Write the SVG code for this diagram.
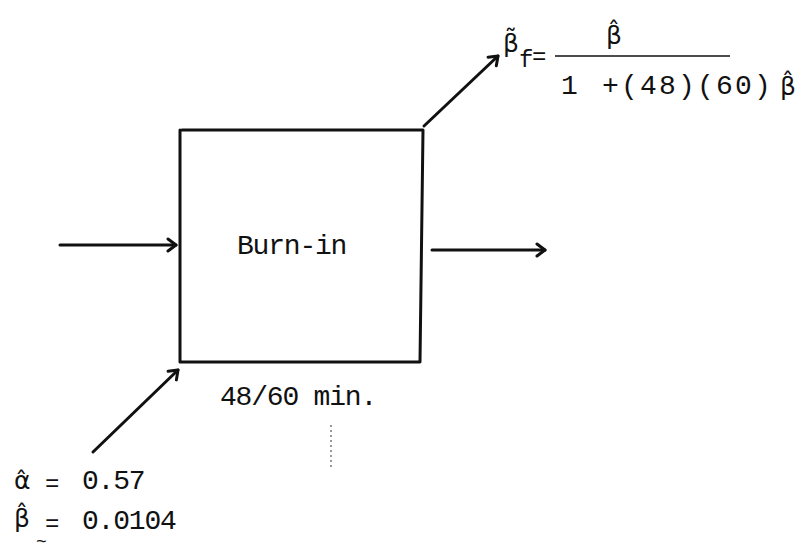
<svg xmlns="http://www.w3.org/2000/svg" width="805" height="551" viewBox="0 0 805 551">
<defs>
<style>
text{font-family:"Liberation Mono","DejaVu Sans Mono",monospace;fill:#111;}
.t{font-size:28px;letter-spacing:-1.2px;}
.s{font-size:24px;}
.g{font-family:"DejaVu Sans","Noto Sans",sans-serif;font-size:25px;}
.ln{stroke:#111;stroke-width:3;fill:none;stroke-linecap:round;stroke-linejoin:round;}
.thin{stroke:#111;stroke-width:1.5;fill:none;}
</style>
<marker id="ah" viewBox="0 0 16 16" refX="13" refY="8" markerWidth="16" markerHeight="16" markerUnits="userSpaceOnUse" orient="auto">
<path d="M5,2 L13,8 L5,14" fill="none" stroke="#111" stroke-width="3" stroke-linecap="round" stroke-linejoin="round"/>
</marker>
</defs>
<rect width="805" height="551" fill="#fff"/>
<g id="burn-in">
<path class="ln" d="M180,130 L180,362 L420,362 L423,130 L182,130"/>
<text class="t" x="237" y="254">Burn-in</text>
<text class="t" x="220" y="405">48/60 min.</text>
</g>
<g id="connectors">
<line class="ln" x1="60" y1="245" x2="176" y2="245" marker-end="url(#ah)"/>
<line class="ln" x1="432" y1="250" x2="545" y2="250" marker-end="url(#ah)"/>
<line class="ln" x1="424" y1="126" x2="498" y2="56" marker-end="url(#ah)"/>
<line class="ln" x1="93" y1="452" x2="178" y2="370" marker-end="url(#ah)"/>
<line x1="331" y1="425" x2="331" y2="470" stroke="#333" stroke-width="1" stroke-dasharray="2,3"/>
</g>
<g id="formula">
<text class="g" x="503" y="52">β̃</text>
<text class="s" x="519" y="67">f</text>
<text class="s" x="532" y="64">=</text>
<line class="thin" x1="555" y1="56" x2="730" y2="56"/>
<text class="g" x="606" y="44">β̂</text>
<text class="t" x="561" y="94">1</text>
<text class="t" x="602" y="94" style="letter-spacing:2.2px">+(48)(60)</text>
<text class="g" x="780" y="95">β̂</text>
</g>
<g id="params">
<text class="g" x="14" y="489">α̂</text>
<text class="s" x="45" y="491">=</text>
<text class="t" x="82" y="489">0.57</text>
<text class="g" x="14" y="527">β̂</text>
<text class="s" x="45" y="531">=</text>
<text class="t" x="82" y="529">0.0104</text>
<text x="36" y="547" style="font-size:18px">~</text>
</g>
</svg>
